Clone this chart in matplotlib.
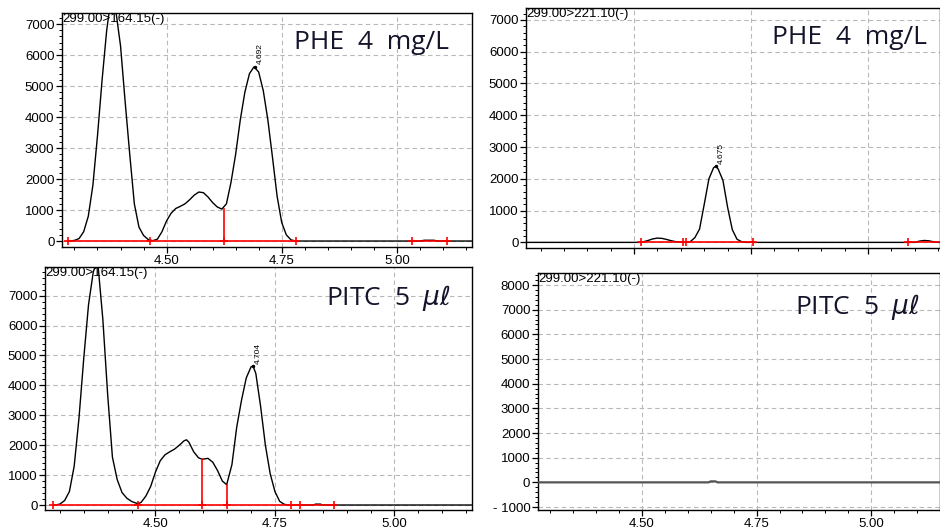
import matplotlib
matplotlib.use("Agg")
import matplotlib.pyplot as plt
from matplotlib.ticker import MultipleLocator, FuncFormatter

plt.rcParams['font.family'] = ['Liberation Sans', 'DejaVu Sans']

# --- data ---
# top left: 299.00>164.15, PHE 4 mg/L
tl_t = [4.29, 4.30, 4.31, 4.32, 4.33, 4.34, 4.35, 4.36, 4.37, 4.375, 4.38, 4.385, 4.39, 4.40,
        4.41, 4.42, 4.43, 4.44, 4.45, 4.46, 4.47, 4.48, 4.49, 4.50, 4.51, 4.52,
        4.53, 4.54, 4.55, 4.56, 4.57, 4.58, 4.59, 4.60, 4.61, 4.62, 4.63, 4.64,
        4.65, 4.66, 4.67, 4.68, 4.69, 4.70, 4.71, 4.72, 4.73, 4.74, 4.75, 4.76,
        4.77, 4.78, 5.05, 5.06, 5.08, 5.09, 5.17]
tl_i = [0, 20, 80, 300, 800, 1800, 3400, 5200, 6800, 7350, 7600, 7600, 7400, 6300,
        4500, 2800, 1200, 450, 180, 50, 10, 60, 300, 650, 900, 1050,
        1120, 1200, 1330, 1480, 1580, 1560, 1420, 1240, 1100, 1030, 1200, 1900,
        2800, 3900, 4800, 5400, 5620, 5450, 4850, 3900, 2700, 1450, 600, 200,
        40, 0, 0, 25, 25, 0, 0]

# top right: 299.00>221.10, PHE 4 mg/L
tr_t = [4.26, 4.515, 4.53, 4.54, 4.55, 4.56, 4.57, 4.58, 4.59, 4.60, 4.61, 4.62,
        4.63, 4.64, 4.65, 4.66, 4.67, 4.675, 4.68, 4.69, 4.70, 4.71, 4.72, 4.73,
        4.74, 5.10, 5.11, 5.12, 5.13, 5.14, 5.15, 5.16]
tr_i = [0, 0, 60, 110, 135, 125, 90, 50, 20, 5, 0, 20,
        150, 420, 1200, 2000, 2350, 2400, 2300, 1950, 1100, 400, 100, 20,
        0, 0, 40, 60, 50, 20, 0, 0]

# bottom left: 299.00>164.15, PITC 5 ul
bl_t = [4.29, 4.30, 4.31, 4.32, 4.33, 4.34, 4.35, 4.36, 4.37, 4.377, 4.38, 4.39,
        4.40, 4.41, 4.42, 4.43, 4.44, 4.45, 4.46, 4.465, 4.47, 4.48, 4.49, 4.50,
        4.51, 4.52, 4.53, 4.54, 4.55, 4.56, 4.565, 4.57, 4.58, 4.59, 4.598, 4.61,
        4.62, 4.63, 4.64, 4.649, 4.66, 4.67, 4.68, 4.69, 4.70, 4.704, 4.71, 4.72,
        4.73, 4.74, 4.75, 4.76, 4.77, 4.78, 4.83, 4.835, 4.845, 4.85, 5.17]
bl_i = [0, 30, 150, 450, 1300, 2900, 4900, 6700, 7800, 8100, 8000, 6200,
        3700, 1600, 850, 420, 230, 120, 60, 50, 90, 300, 620, 1100,
        1480, 1680, 1780, 1870, 2000, 2150, 2180, 2100, 1780, 1580, 1530, 1560,
        1430, 1150, 800, 680, 1350, 2600, 3500, 4250, 4620, 4650, 4400, 3300,
        2000, 1050, 450, 120, 20, 0, 0, 30, 30, 0, 0]

# bottom right: 299.00>221.10, PITC 5 ul
br_t = [4.26, 4.645, 4.65, 4.66, 4.665, 5.16]
br_i = [0, 0, 40, 40, 0, 0]

# integration baselines, drop lines, markers, apex labels
tl_base = [(4.286, 4.782), (5.034, 5.108)]
tl_drops = [(4.624, 1030)]
tl_marks = [4.286, 4.465, 4.624, 4.782, 5.034, 5.108]
tr_base = [(4.515, 4.609), (4.609, 4.754), (5.085, 5.16)]
tr_drops = []
tr_marks = [4.515, 4.604, 4.612, 4.754, 5.085]
bl_base = [(4.285, 4.874)]
bl_drops = [(4.598, 1530), (4.649, 680)]
bl_marks = [4.285, 4.464, 4.598, 4.649, 4.784, 4.803, 4.874]

fig = plt.figure(figsize=(9.4, 5.29), dpi=100)


def panel(rect, t, y, xlim, ylim, yticks, trace, title, title_pos,
          base=(), drops=(), marks=(), apex=None, xlabels=True, line_c='black', lw=1.0):
    ax = fig.add_axes(rect)
    ax.plot(t, y, color=line_c, lw=lw, zorder=3)
    for a, b in base:
        ax.plot([a, b], [0, 0], color='red', lw=1.2, zorder=4)
    for x, h in drops:
        ax.plot([x, x], [0, h], color='red', lw=1.2, zorder=4)
    if len(marks):
        ax.plot(marks, [0] * len(marks), ls='none', marker='+', ms=6, mew=1.2,
                color='red', zorder=5)
    if apex is not None:
        ax.plot([apex[0]], [apex[1]], 'k.', ms=3, zorder=5)
        ax.text(apex[0] + 0.004, apex[1] + 80, '%.3f' % apex[0], rotation=90,
                fontsize=6, ha='left', va='bottom')
    ax.set_xlim(*xlim)
    ax.set_ylim(*ylim)
    ax.set_yticks(yticks)
    ax.xaxis.set_major_locator(MultipleLocator(0.25))
    ax.xaxis.set_minor_locator(MultipleLocator(0.05))
    ax.yaxis.set_minor_locator(MultipleLocator(200))
    ax.xaxis.set_major_formatter(FuncFormatter(lambda v, p: '%.2f' % v))
    ax.yaxis.set_major_formatter(
        FuncFormatter(lambda v, p: ('- %d' % -v) if v < 0 else '%d' % v))
    if not xlabels:
        ax.tick_params(axis='x', labelbottom=False)
    ax.tick_params(direction='out', length=4, width=0.9, labelsize=9.5, pad=1.5)
    ax.tick_params(which='minor', direction='out', length=2.5, width=0.7)
    ax.grid(True, which='major', ls=(0, (4, 3)), color='#b8b8b8', lw=0.8)
    for s in ax.spines.values():
        s.set_linewidth(1.0)
    ax.text(0.0, 1.0, trace, transform=ax.transAxes, fontsize=9.5,
            ha='left', va='top', zorder=6)
    ax.text(title_pos[0], title_pos[1], title, transform=ax.transAxes,
            fontsize=19, ha='right', va='center', color='#14142a',
            family=['Open Sans', 'DejaVu Sans'])
    return ax


panel([0.066, 0.533, 0.436, 0.4424], tl_t, tl_i, (4.273, 5.163), (-194, 7355),
      range(0, 8000, 1000), '299.00>164.15(-)', 'PHE  4  mg/L', (0.945, 0.876),
      tl_base, tl_drops, tl_marks, (4.692, 5620))
panel([0.5596, 0.531, 0.4404, 0.454], tr_t, tr_i, (4.269, 5.154), (-180, 7378),
      range(0, 8000, 1000), '299.00>221.10(-)', 'PHE  4  mg/L', (0.968, 0.875),
      tr_base, tr_drops, tr_marks, (4.675, 2400), xlabels=False)
panel([0.0479, 0.0359, 0.4541, 0.4594], bl_t, bl_i, (4.269, 5.162), (-167, 7960),
      range(0, 8000, 1000), '299.00>164.15(-)', r'PITC  5  $\mu\ell$', (0.95, 0.872),
      bl_base, bl_drops, bl_marks, (4.704, 4650))
panel([0.5723, 0.0359, 0.4277, 0.448], br_t, br_i, (4.273, 5.15), (-1121, 8486),
      range(-1000, 9000, 1000), '299.00>221.10(-)', r'PITC  5  $\mu\ell$', (0.95, 0.857),
      line_c='#555555', lw=1.6)

fig.savefig('out.png', dpi=100)
